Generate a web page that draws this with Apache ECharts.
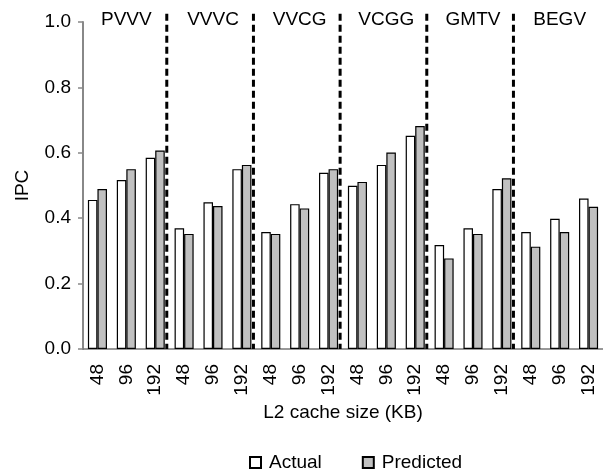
<!DOCTYPE html>
<html>
<head>
<meta charset="utf-8">
<script src="https://cdn.jsdelivr.net/npm/echarts@6/dist/echarts.min.js"></script>
<style>
  html, body { margin: 0; padding: 0; background: #fff; }
  #chart { width: 603px; height: 470px; }
</style>
</head>
<body>
<div id="chart"></div>
<script>
// 그룹(워크로드)과 캐시 크기
const groups = ['PVVV', 'VVVC', 'VVCG', 'VCGG', 'GMTV', 'BEGV'];
const cacheSizes = ['48', '96', '192'];

// IPC 값
const actual = [
    0.456, 0.517, 0.585,
    0.369, 0.449, 0.550,
    0.358, 0.443, 0.539,
    0.499, 0.563, 0.652,
    0.318, 0.369, 0.489,
    0.358, 0.398, 0.460
];
const predicted = [
    0.489, 0.550, 0.607,
    0.352, 0.437, 0.563,
    0.352, 0.430, 0.550,
    0.511, 0.601, 0.682,
    0.277, 0.352, 0.522,
    0.313, 0.358, 0.435
];

const yTicks = [0, 0.2, 0.4, 0.6, 0.8, 1.0];

const drawChart = () => {
    var chartDom = document.getElementById('chart');
    var myChart = echarts.init(chartDom);

    const font = 'Liberation Sans, Arial, sans-serif';
    const fs = 19;
    const categories = [];
    groups.forEach(() => cacheSizes.forEach(s => categories.push(s)));
    const total = categories.length;

    // 그룹 경계 점선 (마지막 그룹 제외)
    const sepShift = 0.1;
    const separators = groups.slice(0, -1).map((g, i) => {
        const x = (i + 1) * cacheSizes.length - sepShift;
        return {
            type: 'line',
            xAxisIndex: 2,
            silent: true,
            symbol: 'none',
            clip: false,
            z: 5,
            lineStyle: { color: '#000', width: 3, type: [7, 4] },
            data: [[x, 1.025], [x, 0]]
        };
    });

    myChart.setOption({
        animation: false,
        textStyle: { fontFamily: font },
        grid: { left: 83, top: 22, width: 525, bottom: 121, containLabel: false },
        legend: {
            data: ['Actual', 'Predicted'],
            left: 249,
            top: 453,
            padding: 0,
            icon: 'rect',
            itemWidth: 11,
            itemHeight: 11,
            itemGap: 40,
            textStyle: { fontSize: fs, color: '#000', fontFamily: font, padding: [0, 0, 0, 3] }
        },
        xAxis: [
            {
                type: 'category',
                data: categories,
                position: 'bottom',
                name: 'L2 cache size (KB)',
                nameLocation: 'middle',
                nameGap: 54,
                nameTextStyle: { fontSize: fs, color: '#000', fontFamily: font },
                axisLine: { lineStyle: { color: '#777', width: 1.5 } },
                axisTick: { length: 6, lineStyle: { color: '#777', width: 1.5 } },
                axisLabel: { rotate: 90, fontSize: fs, color: '#000', margin: 15, interval: 0 },
                splitLine: { show: false }
            },
            {
                type: 'category',
                data: groups,
                position: 'top',
                axisLine: { show: false },
                axisTick: { show: false },
                axisLabel: { fontSize: fs, color: '#000', margin: -7, interval: 0 },
                splitLine: { show: false }
            },
            {
                type: 'value',
                min: 0,
                max: total,
                show: false,
                position: 'bottom',
                splitLine: { show: false }
            }
        ],
        yAxis: {
            type: 'value',
            min: yTicks[0],
            max: yTicks[yTicks.length - 1],
            interval: 0.2,
            name: 'IPC',
            nameLocation: 'middle',
            nameGap: 51,
            nameTextStyle: { fontSize: fs, color: '#000', fontFamily: font },
            axisLine: { show: true, lineStyle: { color: '#888', width: 2 } },
            axisTick: { show: true, length: 5, lineStyle: { color: '#888', width: 1.5 } },
            axisLabel: { fontSize: fs, color: '#000', margin: 12, formatter: v => v.toFixed(1) },
            splitLine: { show: false }
        },
        series: [
            {
                name: 'Actual',
                type: 'bar',
                data: actual,
                barGap: '0%',
                barCategoryGap: '34%',
                itemStyle: { color: '#ffffff', borderColor: '#000', borderWidth: 1.2 }
            },
            {
                name: 'Predicted',
                type: 'bar',
                data: predicted,
                barGap: '0%',
                barCategoryGap: '34%',
                itemStyle: { color: '#c0c0c0', borderColor: '#000', borderWidth: 1.2 }
            },
            ...separators
        ]
    });
};

drawChart();
</script>
</body>
</html>
